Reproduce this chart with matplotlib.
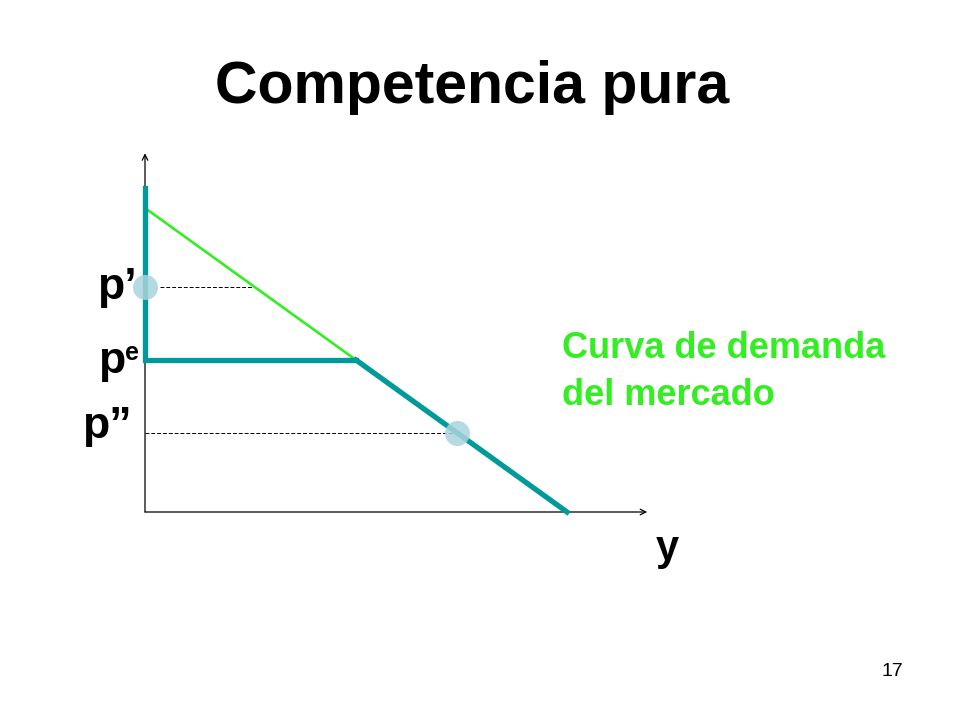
import numpy as np
import matplotlib
matplotlib.use("Agg")
import matplotlib.pyplot as plt

plt.rcParams["font.family"] = ["Liberation Sans", "DejaVu Sans"]

# data (quantity y, price p)
demand_y = [0, 10]
demand_p = [10, 0]
p_e = 5.0
y_kink = 5.0
p_top = 10.65
p_prime = 7.4
p_dprime = 2.6
y_dprime = 7.4
axis_ymax = 11.8
axis_xmax = 11.9

teal = "#009a9a"
green = "#33ee22"
dot = "#a9d4dc"

fig = plt.figure(figsize=(9.6, 7.2), dpi=100)
ax = fig.add_axes([0, 0, 1, 1])
# pixel mapping: origin at (145, 512), 42.2 px per y unit, 30.4 px per p unit
ax.set_xlim(-145 / 42.2, (960 - 145) / 42.2)
ax.set_ylim(-(720 - 512) / 30.4, 512 / 30.4)
ax.axis("off")

# axes with arrows
ax.annotate("", xy=(axis_xmax, 0), xytext=(0, 0),
            arrowprops=dict(arrowstyle="->", color="black", lw=0.9, shrinkA=0, shrinkB=0))
ax.annotate("", xy=(0, axis_ymax), xytext=(0, 0),
            arrowprops=dict(arrowstyle="->", color="black", lw=0.9, shrinkA=0, shrinkB=0))

# dashed guides
ax.plot([0.35, 10 - p_prime], [p_prime, p_prime], ls=(0, (4, 2)), color="black", lw=0.7)
ax.plot([0, y_dprime], [p_dprime, p_dprime], ls=(0, (4, 2)), color="black", lw=0.7)

# market demand
ax.plot(demand_y, demand_p, color=green, lw=1.9, zorder=3)

# firm demand (kinked)
ax.plot([0, 0, y_kink], [p_top, p_e, p_e], color=teal, lw=3.8, zorder=4,
        solid_joinstyle="miter")
ax.plot([y_kink, demand_y[1]], [p_e, demand_p[1]], color=teal, lw=3.8, zorder=4)

# points
ax.plot([0, y_dprime], [p_prime, p_dprime], "o", ms=18, color=dot, alpha=0.85,
        mec="none", zorder=5)

# labels
ax.text(-0.2, 7.0, "p’", fontsize=32, fontweight="bold", ha="right", va="baseline")
ax.text(-0.47, 4.57, "p", fontsize=32, fontweight="bold", ha="right", va="baseline")
ax.text(-0.47, 5.0, "e", fontsize=18, fontweight="bold", ha="left", va="baseline")
ax.text(-0.31, 2.42, "p”", fontsize=32, fontweight="bold", ha="right", va="baseline")
ax.text(12.37, -1.58, "y", fontsize=30, fontweight="bold", ha="center", va="baseline")

ax.text(9.88, 5.07, "Curva de demanda", fontsize=26, fontweight="bold",
        color=green, ha="left", va="baseline")
ax.text(9.88, 3.52, "del mercado", fontsize=26, fontweight="bold",
        color=green, ha="left", va="baseline")

fig.text(0.492, 1 - 103 / 720, "Competencia pura", fontsize=42.5, fontweight="bold",
         ha="center", va="baseline")
fig.text(0.93, 0.067, "17", fontsize=14, ha="center", va="center")

fig.savefig("out.png", dpi=100)
